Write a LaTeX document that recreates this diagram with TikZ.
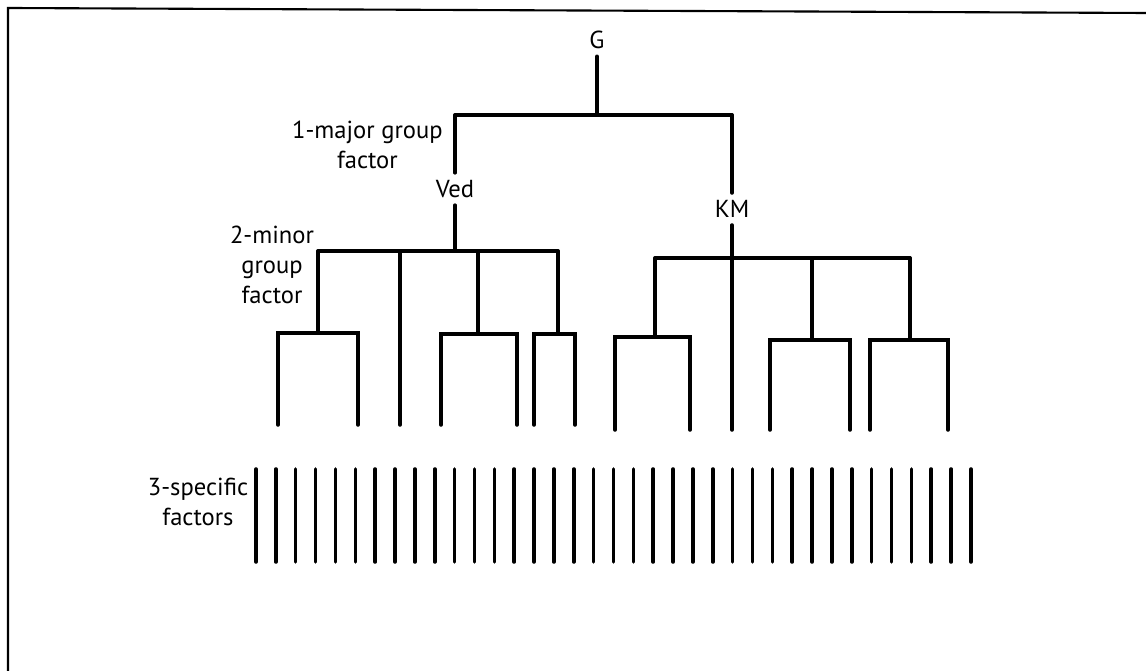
\documentclass[tikz,border=0pt]{standalone}
\usepackage{fontspec}
\setmainfont{PT Sans}

\tikzset{
  rama/.style={line width=2pt,line cap=round},
  etiqueta/.style={font=\fontsize{14}{17}\selectfont,align=center,inner sep=4pt},
}

\begin{document}
\begin{tikzpicture}[x=0.02cm,y=-0.02cm]
\useasboundingbox (0,0) rectangle (1146,671);

% Marco
\draw[line width=1.2pt] (8,671) -- (8,8) -- (1146,13);

% Rótulos
\node[etiqueta] (G)   at (597,40)  {G};
\node[etiqueta] (Ved) at (455,189) {Ved};
\node[etiqueta] (KM)  at (732,209) {KM};

\node[etiqueta,anchor=east] (mayor) at (450,145) {1-major group\\factor};
\node[etiqueta] (menor) at (272,265) {2-minor\\group\\factor};
\node[etiqueta] (especifico) at (198,502) {3-specific\\factors};

% Puntos del árbol
\coordinate (majL) at (455,115);
\coordinate (majR) at (732,115);
\coordinate (vedL) at (318,251);
\coordinate (vedR) at (558,251);
\coordinate (kmL)  at (655,258);
\coordinate (kmR)  at (910,258);

\coordinate (v1) at (318,333);
\coordinate (v2) at (478,334);
\coordinate (v3) at (558,334);
\coordinate (k1) at (655,337);
\coordinate (k2) at (812,340);
\coordinate (k3) at (910,340);

\foreach \n/\x/\y in {l1/278/425,l2/358/425,l3/400/425,l4/441/425,
                      l5/517/425,l6/534/425,l7/575/425,
                      l8/615/430,l9/690/430,l10/732/430,l11/770/430,
                      l12/850/430,l13/870/430,l14/948/430}
  \coordinate (\n) at (\x,\y);

% Factor general y grupos mayores
\draw[rama] (G) -- (G |- majL);
\draw[rama] (majL) -- (majR);
\draw[rama] (majL) -- (Ved);
\draw[rama] (majR) -- (KM);

% Grupo Ved
\draw[rama] (Ved) -- (Ved |- vedL);
\draw[rama] (vedL) -- (vedR);
\draw[rama] (vedL) -- (v1);
\draw[rama] (l3 |- vedL) -- (l3);
\draw[rama] (v2 |- vedL) -- (v2);
\draw[rama] (vedR) -- (v3);
\draw[rama] (l1) |- (v1) -| (l2);
\draw[rama] (l4) |- (v2) -| (l5);
\draw[rama] (l6) |- (v3) -| (l7);

% Grupo KM
\draw[rama] (KM) -- (l10);
\draw[rama] (kmL) -- (kmR);
\draw[rama] (kmL) -- (k1);
\draw[rama] (k2 |- kmL) -- (k2);
\draw[rama] (kmR) -- (k3);
\draw[rama] (l8) |- (k1) -| (l9);
\draw[rama] (l11) |- (k2) -| (l12);
\draw[rama] (l13) |- (k3) -| (l14);

% Factores específicos
\foreach \i in {0,...,36}
  \draw[rama] (256+19.86*\i,469) -- ++(0,93);

\end{tikzpicture}
\end{document}
